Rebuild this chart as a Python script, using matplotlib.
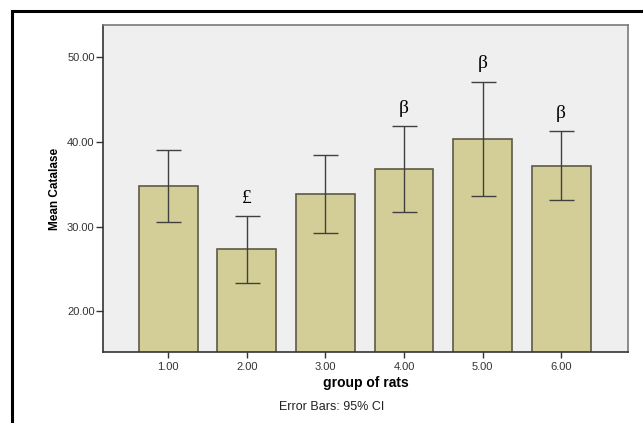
import matplotlib.pyplot as plt
import matplotlib.patches as patches

# group of rats and mean catalase with 95% CI bounds
groups = [1, 2, 3, 4, 5, 6]
tick_labels = ['1.00', '2.00', '3.00', '4.00', '5.00', '6.00']
means = [34.75, 27.3, 33.9, 36.8, 40.3, 37.15]
ci_upper = [39.0, 31.2, 38.4, 41.85, 47.1, 41.3]
ci_lower = [30.5, 23.4, 29.3, 31.7, 33.6, 33.1]
marks = ['', '£', '', 'β', 'β', 'β']

plt.rcParams['font.family'] = ['Liberation Sans', 'DejaVu Sans']

fig = plt.figure(figsize=(6.43, 4.23), dpi=100)
fig.patch.set_facecolor('white')

# outer frame (cropped on right/bottom)
frame = patches.Rectangle((12 / 643, -0.1), 1.1, 1 - 11 / 423 + 0.1,
                          transform=fig.transFigure, fill=False,
                          edgecolor='black', linewidth=2.2)
fig.patches.append(frame)

ax = fig.add_axes([103 / 643, 1 - 352 / 423, 525 / 643, 327 / 423])
ax.set_facecolor('#EFEFEF')

yerr = [[m - lo for m, lo in zip(means, ci_lower)],
        [hi - m for m, hi in zip(means, ci_upper)]]
ax.bar(groups, means, width=0.75, color='#D3CE98', edgecolor='#5E5A45',
       linewidth=1.2, zorder=2)
ax.errorbar(groups, means, yerr=yerr, fmt='none', ecolor='#404040',
            elinewidth=1.0, capsize=9, capthick=1.0, zorder=3)

for g, hi, m in zip(groups, ci_upper, marks):
    if m:
        ax.text(g, hi + 1.1, m, ha='center', va='bottom', fontsize=14,
                family=['Liberation Serif', 'DejaVu Serif'])

ax.set_xlim(0.17, 6.85)
ax.set_ylim(15.2, 53.8)
ax.set_xticks(groups)
ax.set_xticklabels(tick_labels)
ax.set_yticks([20, 30, 40, 50])
ax.set_yticklabels(['20.00', '30.00', '40.00', '50.00'])
ax.tick_params(axis='both', labelsize=8, colors='#333333', width=1.0)
ax.tick_params(axis='y', length=5, pad=1)
ax.tick_params(axis='x', length=4, pad=3)

for s in ax.spines.values():
    s.set_color('#7A7A7A')
    s.set_linewidth(1.2)
ax.spines['left'].set_color('#333333')
ax.spines['bottom'].set_color('#333333')

ax.set_ylabel('Mean Catalase', fontsize=8.5, fontweight='bold', labelpad=4)
ax.set_xlabel('group of rats', fontsize=10, fontweight='bold', labelpad=3)

fig.text(332 / 643, 1 - 407 / 423, 'Error Bars: 95% CI', ha='center',
         va='center', fontsize=9, color='#222222')

fig.savefig('out.png', dpi=100)
